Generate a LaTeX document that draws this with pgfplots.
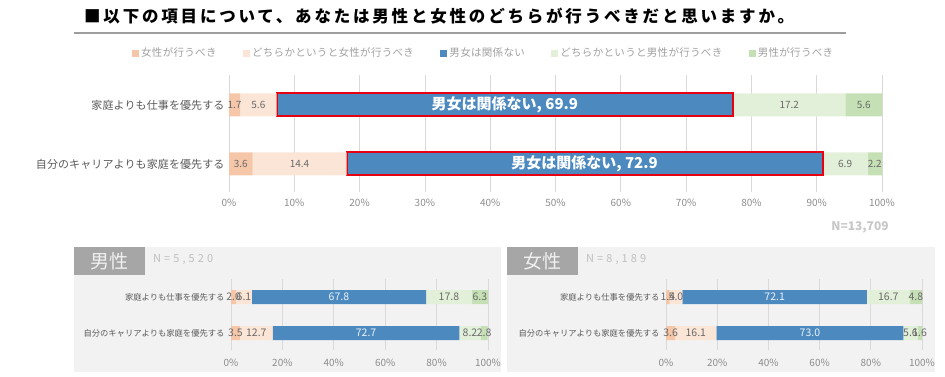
\documentclass[border=0pt]{standalone}
\usepackage{fontspec}
\setmainfont{Noto Sans CJK JP}
\usepackage{pgfplots}
\pgfplotsset{compat=1.18}

\definecolor{cA}{RGB}{245,198,168}
\definecolor{cB}{RGB}{251,229,214}
\definecolor{cC}{RGB}{76,137,191}
\definecolor{cD}{RGB}{226,240,217}
\definecolor{cE}{RGB}{197,224,180}
\definecolor{gridc}{RGB}{217,217,217}
\definecolor{labc}{RGB}{89,89,89}
\definecolor{tickc}{RGB}{140,140,140}
\definecolor{valc}{RGB}{105,105,105}
\definecolor{legc}{RGB}{160,160,160}
\definecolor{panel}{RGB}{242,242,242}
\definecolor{boxc}{RGB}{166,166,166}
\definecolor{redb}{RGB}{230,0,18}

\pgfplotsset{
  stackbase/.style={
    xbar stacked, scale only axis,
    xmin=0, xmax=100,
    axis line style={draw=none}, tick style={draw=none},
    xmajorgrids, grid style={draw=gridc, line width=0.8pt},
    ytick={0,1},
    /pgf/number format/assume math mode=true,
    xticklabel={\pgfmathprintnumber[fixed,precision=0]{\tick}\%},
    xticklabel style={text=tickc},
    yticklabel style={text=labc},
    point meta=rawx,
    nodes near coords={\pgfmathprintnumber[fixed,fixed zerofill,precision=1]{\pgfplotspointmeta}},
    every node near coord/.append style={anchor=center, inner sep=0pt, text=valc},
  },
}

\begin{document}
\begin{tikzpicture}
\path[use as bounding box] (0pt,0pt) rectangle (945pt,-377pt);

% title
\node[anchor=west, inner sep=0pt, font=\fontsize{16.5}{18}\selectfont\bfseries\addfontfeature{LetterSpace=17}] at (84pt,-16pt)
  {■以下の項目について、あなたは男性と女性のどちらが行うべきだと思いますか。};
\draw[line width=1.6pt, black!38] (74pt,-33pt) -- (846pt,-33pt);

% top chart
\begin{axis}[stackbase,
  at={(229pt,-192pt)}, anchor=south west,
  width=653pt, height=117pt,
  ymin=-0.475, ymax=1.508, bar width=23pt,
  xtick={0,10,...,100},
  xticklabel style={font=\fontsize{10}{12}\selectfont, yshift=-4pt},
  yticklabels={自分のキャリアよりも家庭を優先する, 家庭よりも仕事を優先する},
  yticklabel style={font=\fontsize{11}{13}\selectfont\addfontfeature{LetterSpace=1}, xshift=-1pt},
  every node near coord/.append style={font=\fontsize{10}{12}\selectfont},
  legend style={draw=none, fill=none, at={(0.39,1.188)}, anchor=center,
    legend columns=5, font=\fontsize{10.5}{12}\selectfont\addfontfeature{LetterSpace=3},
    text=legc, /tikz/every even column/.append style={column sep=24.5pt},
    inner sep=0pt},
  legend image code/.code={\path[#1,draw=none] (0pt,-3.5pt) rectangle (7pt,3.5pt);},
]
\addplot[fill=cA, draw=none] coordinates {(1.7,1) (3.6,0)};
\addplot[fill=cB, draw=none] coordinates {(5.6,1) (14.4,0)};
\addplot[fill=cC, draw=redb, line width=2pt,
  nodes near coords={男女は関係ない, \pgfmathprintnumber[fixed,fixed zerofill,precision=1]{\pgfplotspointmeta}},
  every node near coord/.append style={font=\fontsize{15}{17}\selectfont\bfseries, text=white}]
  coordinates {(69.9,1) (72.9,0)};
\addplot[fill=cD, draw=none] coordinates {(17.2,1) (6.9,0)};
\addplot[fill=cE, draw=none] coordinates {(5.6,1) (2.2,0)};
\legend{女性が行うべき, どちらかというと女性が行うべき, 男女は関係ない, どちらかというと男性が行うべき, 男性が行うべき}
\end{axis}

\node[anchor=center, font=\fontsize{12}{14}\selectfont\bfseries, text=black!22] at (860pt,-227pt) {N=13,709};

% panels
\fill[panel] (74pt,-247pt) rectangle (501pt,-372pt);
\fill[panel] (507pt,-247pt) rectangle (935pt,-372pt);
\fill[boxc] (74pt,-247pt) rectangle (145pt,-275pt);
\fill[boxc] (507pt,-247pt) rectangle (578pt,-275pt);
\node[text=white!94!black, font=\fontsize{19}{21}\selectfont] at (109.5pt,-261pt) {男性};
\node[text=white!94!black, font=\fontsize{19}{21}\selectfont] at (542.5pt,-261pt) {女性};
\node[anchor=west, inner sep=0pt, text=black!25, font=\fontsize{11}{13}\selectfont\addfontfeature{LetterSpace=28}] at (153pt,-260pt) {N=5,520};
\node[anchor=west, inner sep=0pt, text=black!25, font=\fontsize{11}{13}\selectfont\addfontfeature{LetterSpace=28}] at (586pt,-260pt) {N=8,189};

% male
\begin{axis}[stackbase,
  at={(231pt,-350pt)}, anchor=south west,
  width=257pt, height=71pt,
  ymin=-0.47, ymax=1.5, bar width=14pt,
  xtick={0,20,...,100},
  xticklabel style={font=\fontsize{10}{12}\selectfont, yshift=-6pt},
  yticklabels={自分のキャリアよりも家庭を優先する, 家庭よりも仕事を優先する},
  yticklabel style={font=\fontsize{8.3}{10}\selectfont, xshift=-3pt},
  every node near coord/.append style={font=\fontsize{10.5}{12}\selectfont},
]
\addplot[fill=cA, draw=none] coordinates {(2.0,1) (3.5,0)};
\addplot[fill=cB, draw=none] coordinates {(6.1,1) (12.7,0)};
\addplot[fill=cC, draw=none, every node near coord/.append style={text=white!90!cC}] coordinates {(67.8,1) (72.7,0)};
\addplot[fill=cD, draw=none] coordinates {(17.8,1) (8.2,0)};
\addplot[fill=cE, draw=none] coordinates {(6.3,1) (2.8,0)};
\end{axis}

% female
\begin{axis}[stackbase,
  at={(666pt,-350pt)}, anchor=south west,
  width=256pt, height=71pt,
  ymin=-0.47, ymax=1.5, bar width=14pt,
  xtick={0,20,...,100},
  xticklabel style={font=\fontsize{10}{12}\selectfont, yshift=-6pt},
  yticklabels={自分のキャリアよりも家庭を優先する, 家庭よりも仕事を優先する},
  yticklabel style={font=\fontsize{8.3}{10}\selectfont, xshift=-3pt},
  every node near coord/.append style={font=\fontsize{10.5}{12}\selectfont},
]
\addplot[fill=cA, draw=none] coordinates {(1.4,1) (3.6,0)};
\addplot[fill=cB, draw=none] coordinates {(5.0,1) (16.1,0)};
\addplot[fill=cC, draw=none, every node near coord/.append style={text=white!90!cC}] coordinates {(72.1,1) (73.0,0)};
\addplot[fill=cD, draw=none] coordinates {(16.7,1) (5.6,0)};
\addplot[fill=cE, draw=none] coordinates {(4.8,1) (1.6,0)};
\end{axis}
\end{tikzpicture}
\end{document}
